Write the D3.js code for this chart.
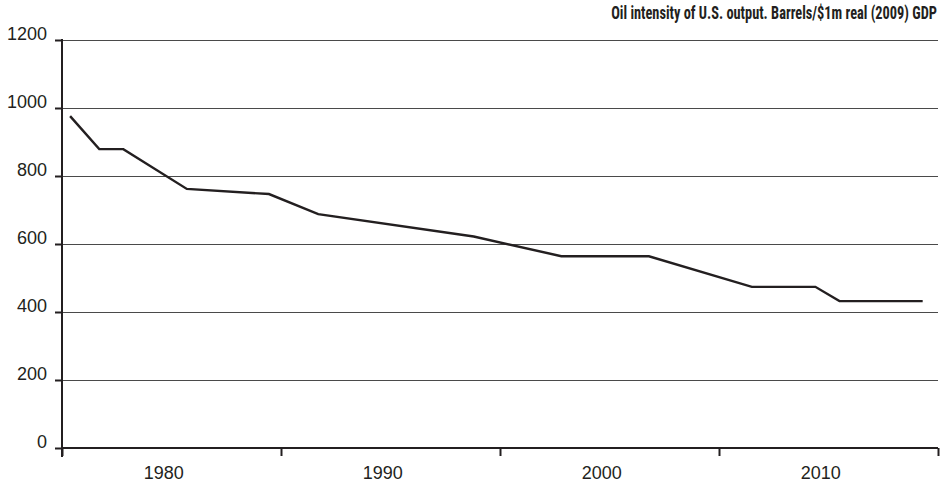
<!DOCTYPE html>
<html>
<head>
<meta charset="utf-8">
<script src="https://cdn.jsdelivr.net/npm/d3@7/dist/d3.min.js"></script>
<style>
  html, body { margin: 0; padding: 0; background: #fff; }
  svg { display: block; }
</style>
</head>
<body>
<svg id="chart" width="949" height="485"></svg>
<script>
// ---- data ----
const years = [1975.37, 1976.7, 1977.8, 1980.7, 1984.45, 1986.7, 1993.8, 1997.8, 2001.8, 2006.5, 2009.4, 2010.5, 2014.3];
const barrelsPerMillion = [976, 879, 879, 762, 747, 688, 622, 564, 564, 474, 474, 432, 432];
const yTicks = [0, 200, 400, 600, 800, 1000, 1200];
const xTickYears = [1975, 1985, 1995, 2005, 2015];
const xLabels = [1980, 1990, 2000, 2010];
const titleText = "Oil intensity of U.S. output. Barrels/$1m real (2009) GDP";

(function () {
const svg = d3.select("#chart");
const mLeft = 62, mRight = 938, mTop = 40, mBottom = 448;

const x = d3.scaleLinear().domain([1975, 2015]).range([mLeft, mRight]);
const y = d3.scaleLinear().domain([0, 1200]).range([mBottom, mTop]);

const ink = "#231f20";

// gridlines
svg.append("g").selectAll("line")
  .data(yTicks.filter(d => d > 0))
  .join("line")
  .attr("x1", mLeft).attr("x2", mRight)
  .attr("y1", d => y(d) + 0.5).attr("y2", d => y(d) + 0.5)
  .attr("stroke", "#4a4a4a").attr("stroke-width", 1);

// y axis
const yAxis = d3.axisLeft(y).tickValues(yTicks).tickSize(7).tickPadding(8).tickFormat(d3.format("d"));
const gy = svg.append("g").attr("transform", `translate(${mLeft},0)`).call(yAxis);
gy.select(".domain").remove();
gy.selectAll(".tick line").attr("stroke", ink).attr("stroke-width", 2);
gy.selectAll(".tick text")
  .attr("font-family", "'Liberation Sans', Arial, sans-serif")
  .attr("font-size", 18).attr("fill", ink).attr("dy", "-0.05em");
svg.append("line")
  .attr("x1", mLeft).attr("x2", mLeft)
  .attr("y1", mTop - 1).attr("y2", mBottom + 9)
  .attr("stroke", ink).attr("stroke-width", 2);

// x axis
const xAxis = d3.axisBottom(x).tickValues(xTickYears).tickSize(8).tickFormat("");
const gx = svg.append("g").attr("transform", `translate(0,${mBottom})`).call(xAxis);
gx.select(".domain").attr("stroke", ink).attr("stroke-width", 2).attr("d", `M${mLeft},0H${mRight}`);
gx.selectAll(".tick line").attr("stroke", ink).attr("stroke-width", 2);

svg.append("g").selectAll("text")
  .data(xLabels)
  .join("text")
  .attr("x", d => x(d - 0.35))
  .attr("y", mBottom + 31)
  .attr("text-anchor", "middle")
  .attr("font-family", "'Liberation Sans', Arial, sans-serif")
  .attr("font-size", 18).attr("fill", ink)
  .text(d => d);

// series line
const pts = years.map((yr, i) => [yr, barrelsPerMillion[i]]);
svg.append("path")
  .datum(pts)
  .attr("fill", "none")
  .attr("stroke", ink)
  .attr("stroke-width", 2.4)
  .attr("stroke-linejoin", "miter")
  .attr("d", d3.line().x(d => x(d[0])).y(d => y(d[1])));

// title: condensed horizontally to the reference span
const title = svg.append("text")
  .attr("x", 0).attr("y", 0)
  .attr("text-anchor", "end")
  .attr("font-family", "'Liberation Sans Narrow', 'Roboto Condensed', 'Liberation Sans', Arial, sans-serif")
  .attr("font-weight", "bold")
  .attr("font-size", 17.5)
  .attr("fill", ink)
  .text(titleText);
const w = title.node().getComputedTextLength();
const sx = w > 0 ? Math.min(1, 326 / w) : 1;
title.attr("transform", `translate(${mRight - 1},19) scale(${sx},1)`);
})();
</script>
</body>
</html>
